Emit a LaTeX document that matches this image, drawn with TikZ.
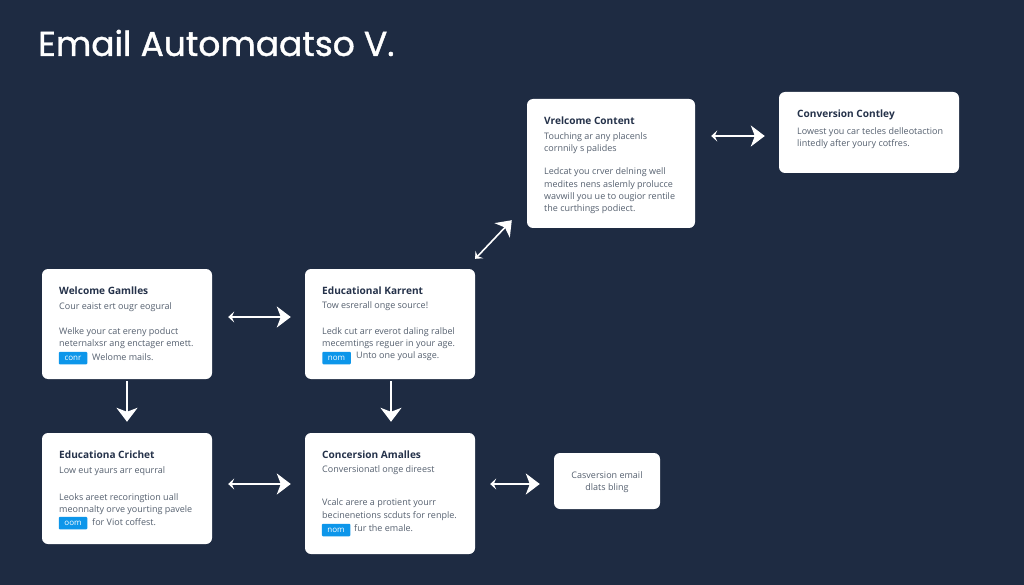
\documentclass[tikz,border=0pt]{standalone}
\usepackage{xcolor}
\usepackage{fontspec}
\setmainfont{Open Sans}
\newfontfamily\headfont[FakeBold=1.2]{Poppins}
\usetikzlibrary{arrows.meta,calc}
\definecolor{pagebg}{HTML}{1E2B42}
\definecolor{cardink}{HTML}{25324A}
\definecolor{bodyink}{HTML}{55606F}
\definecolor{chipblue}{HTML}{0D96EA}
\tikzset{
	card/.style={fill=white,rounded corners=6pt,inner sep=0pt},
	cardtitle/.style={anchor=west,inner sep=0pt,text=cardink,font=\fontsize{10.1}{11}\selectfont\bfseries},
	cardtext/.style={anchor=west,inner sep=0pt,text=bodyink,font=\fontsize{9}{11}\selectfont},
	chip/.style={fill=chipblue,rounded corners=1pt,inner sep=0pt,minimum width=28.5pt,minimum height=12.5pt,text=white,font=\fontsize{8}{9}\selectfont},
	flow/.style={white,line width=1.6pt,{Stealth[length=6pt,width=11pt,inset=2.5pt]}-{Stealth[length=14pt,width=21pt,inset=4pt]}},
	flowdown/.style={white,line width=1.6pt,-{Stealth[length=14pt,width=21pt,inset=4pt]}}
}
\begin{document}
\begin{tikzpicture}[x=1pt,y=-1pt]
	\fill[pagebg] (0,0) rectangle (1024,585);
	\useasboundingbox (0,0) rectangle (1024,585);
	\node (heading) [anchor=west,inner sep=0pt,text=white,font=\fontsize{34.4}{40}\headfont] at (38,43) {Email Automaatso V.};

	% cards
	\node (welcomegames) [card,minimum width=170pt,minimum height=110pt] at (127,324) {};
	\node (edukarrent) [card,minimum width=170pt,minimum height=110pt] at (390,324) {};
	\node (educrichet) [card,minimum width=170pt,minimum height=111pt] at (127,488.5) {};
	\node (concamales) [card,minimum width=170pt,minimum height=121pt] at (390,493.5) {};
	\node (emailbox) [card,minimum width=106pt,minimum height=56pt] at (607,481) {};
	\node (welcontent) [card,minimum width=168pt,minimum height=129pt] at (611,163.5) {};
	\node (convcontley) [card,minimum width=180pt,minimum height=81pt] at (869,132.5) {};

	% welcome games
	\node (wgtitle) [cardtitle] at (59,291) {Welcome Gamlles};
	\node (wgsub) [cardtext] at (59,307) {Cour eaist ert ougr eogural};
	\node (wgone) [cardtext] at (59,332) {Welke your cat ereny poduct};
	\node (wgtwo) [cardtext] at (59,344) {neternalxsr ang enctager emett.};
	\node (wgchip) [chip] at (73,358) {conr};
	\node (wgend) [cardtext] at (92,357) {Welome mails.};

	% educational karrent
	\node (ektitle) [cardtitle] at (322,291) {Educational Karrent};
	\node (eksub) [cardtext] at (322,306) {Tow esrerall onge source!};
	\node (ekone) [cardtext] at (322,332) {Ledk cut arr everot daling ralbel};
	\node (ektwo) [cardtext] at (322,344) {mecemtings reguer in your age.};
	\node (ekchip) [chip] at (336.5,358) {nom};
	\node (ekend) [cardtext] at (356,356) {Unto one youl asge.};

	% educationa crichet
	\node (ectitle) [cardtitle] at (59,455) {Educationa Crichet};
	\node (ecsub) [cardtext] at (59,471) {Low eut yaurs arr equrral};
	\node (econe) [cardtext] at (59,498) {Leoks areet recoringtion uall};
	\node (ectwo) [cardtext] at (59,510) {meonnalty orve yourting pavele};
	\node (ecchip) [chip] at (73,523) {oom};
	\node (ecend) [cardtext] at (92,522) {for Viot coffest.};

	% concersion amalles
	\node (catitle) [cardtitle] at (322,455) {Concersion Amalles};
	\node (casub) [cardtext] at (322,470) {Conversionatl onge direest};
	\node (caone) [cardtext] at (322,503) {Vcalc arere a protient yourr};
	\node (catwo) [cardtext] at (322,516) {becinenetions scduts for renple.};
	\node (cachip) [chip] at (336,530) {nom};
	\node (caend) [cardtext] at (354,528) {fur the emale.};

	% small box
	\node (ebone) [cardtext,anchor=center] at (607,475) {Casversion email};
	\node (ebtwo) [cardtext,anchor=center] at (607,488) {dlats bling};

	% welcome content
	\node (wctitle) [cardtitle] at (544,121) {Vrelcome Content};
	\node (wcsub) [cardtext] at (544,137) {Touching ar any placenls};
	\node (wcsubb) [cardtext] at (544,149) {cornnily s palides};
	\node (wcone) [cardtext] at (544,172) {Ledcat you crver delning well};
	\node (wctwo) [cardtext] at (544,185) {medites nens aslemly prolucce};
	\node (wcthree) [cardtext] at (544,197) {wavwill you ue to ougior rentile};
	\node (wcfour) [cardtext] at (544,209) {the curthings podiect.};

	% conversion contley
	\node (cctitle) [cardtitle] at (797,115) {Conversion Contley};
	\node (ccone) [cardtext] at (797,132) {Lowest you car tecles delleotaction};
	\node (cctwo) [cardtext] at (797,144) {lintedly after youry cotfres.};

	% connectors
	\draw[flow,shorten <=16pt,shorten >=14pt] ([yshift=7pt]welcomegames.east) -- ([yshift=7pt]edukarrent.west);
	\draw[flow,shorten <=16pt,shorten >=14pt] ([yshift=4.5pt]educrichet.east) -- ([yshift=9.5pt]concamales.west);
	\draw[flow,shorten <=15pt,shorten >=14pt] ([yshift=9.5pt]concamales.east) -- ([yshift=-3pt]emailbox.west);
	\draw[flow,shorten <=16pt,shorten >=14pt] ([yshift=27.5pt]welcontent.east) -- ([yshift=-3.5pt]convcontley.west);
	\draw[flow,shorten <=13.8pt,shorten >=21.8pt] ([xshift=-9.5pt]edukarrent.north east) -- ([yshift=23.8pt]welcontent.south west);
	\draw[flowdown,shorten <=2pt,shorten >=11pt] (welcomegames.south) -- (educrichet.north);
	\draw[flowdown,shorten <=2pt,shorten >=11pt] ([xshift=1pt]edukarrent.south) -- ([xshift=1pt]concamales.north);
\end{tikzpicture}
\end{document}
